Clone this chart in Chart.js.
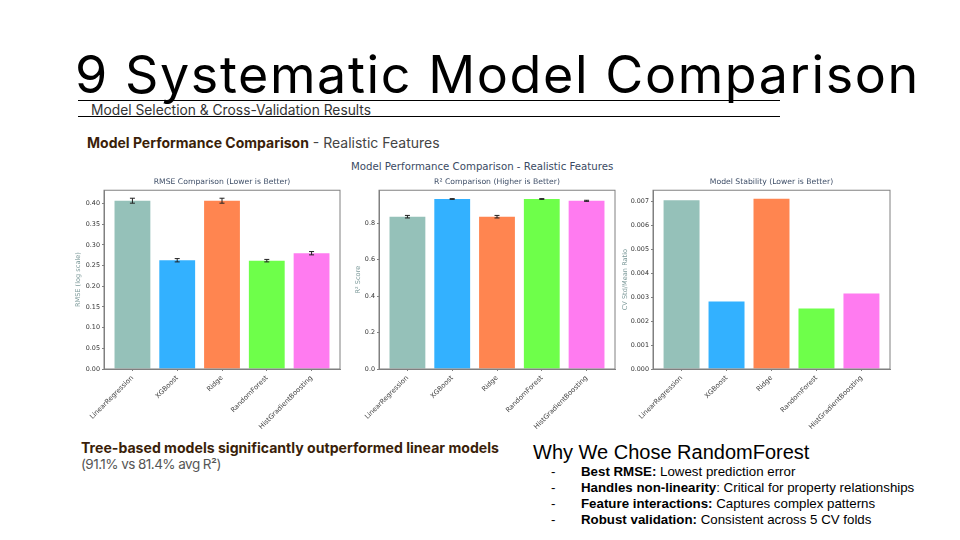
<!DOCTYPE html>
<html><head><meta charset="utf-8">
<script src="https://cdn.jsdelivr.net/npm/chart.js@4"></script>
<style>
html,body{margin:0;padding:0;background:#fff;}
body{position:relative;width:960px;height:540px;overflow:hidden;}
.t{position:absolute;white-space:nowrap;line-height:1;}
.rule{position:absolute;left:78px;width:702px;height:1px;background:#000;}
canvas{position:absolute;filter:blur(0.45px);}
b{font-weight:700;}
</style></head><body>
<div class="t" id="title" style="left:75px;top:43px;font:400 52px Inter;color:#000;letter-spacing:1.6px;">9 Systematic Model Comparison</div>
<div class="rule" style="top:100px"></div>
<div class="rule" style="top:116px"></div>
<div class="t" style="left:91px;top:102px;font:400 13.8px Inter;color:#333;">Model Selection &amp; Cross-Validation Results</div>
<div class="t" style="left:87px;top:134px;font:400 14px Inter;color:#444;"><b style="color:#3b1f0a;">Model Performance Comparison</b> - Realistic Features</div>
<div class="t" style="left:351px;top:161px;font:400 10.2px 'DejaVu Sans';color:#3a4a63;">Model Performance Comparison - Realistic Features</div>
<canvas id="c1" width="271" height="260" style="left:74px;top:175px"></canvas>
<canvas id="c2" width="266" height="260" style="left:354px;top:175px"></canvas>
<canvas id="c3" width="274" height="260" style="left:621px;top:175px"></canvas>
<div class="t" style="left:81px;top:439px;font:400 14.1px Inter;color:#3b1f0a;"><b>Tree-based models significantly outperformed linear models</b></div>
<div class="t" style="left:81px;top:456px;font:400 13.5px Inter;color:#555;letter-spacing:-0.55px;">(91.1% vs 81.4% avg R²)</div>
<div class="t" style="left:533px;top:441px;font:400 20px 'Liberation Sans';color:#000;">Why We Chose RandomForest</div>
<div class="t" style="left:551px;top:464px;font:400 13.3px 'Liberation Sans';">-</div>
<div class="t" style="left:581px;top:464px;font:400 13.3px 'Liberation Sans';"><b>Best RMSE:</b> Lowest prediction error</div>
<div class="t" style="left:551px;top:480px;font:400 13.3px 'Liberation Sans';">-</div>
<div class="t" style="left:581px;top:480px;font:400 13.3px 'Liberation Sans';"><b>Handles non-linearity</b>: Critical for property relationships</div>
<div class="t" style="left:551px;top:496px;font:400 13.3px 'Liberation Sans';">-</div>
<div class="t" style="left:581px;top:496px;font:400 13.3px 'Liberation Sans';"><b>Feature interactions:</b> Captures complex patterns</div>
<div class="t" style="left:551px;top:512px;font:400 13.3px 'Liberation Sans';">-</div>
<div class="t" style="left:581px;top:512px;font:400 13.3px 'Liberation Sans';"><b>Robust validation:</b> Consistent across 5 CV folds</div>
<script>
const categories = ["LinearRegression","XGBoost","Ridge","RandomForest","HistGradientBoosting"];
const barColors = ["#95c1b9","#33b1ff","#ff8550","#6eff4a","#ff7bf0"];
const rmseValues = [0.407,0.263,0.407,0.262,0.280];
const rmseErrors = [0.006,0.004,0.006,0.003,0.004];
const r2Values = [0.835,0.932,0.835,0.932,0.922];
const r2Errors = [0.007,0.002,0.007,0.002,0.003];
const stabilityValues = [0.00703,0.00281,0.0071,0.00252,0.00315];

const frame = {id:'frame',afterDatasetsDraw(ch){
  const a=ch.chartArea,c=ch.ctx;
  c.save();c.strokeStyle='#808080';c.lineWidth=1;
  c.strokeRect(a.left,a.top,a.right-a.left,a.bottom-a.top);c.restore();
}};
const errorBars = {id:'errorBars',afterDatasetsDraw(ch,args,opts){
  if(!opts.errors) return;
  const c=ch.ctx,x=ch.scales.x,y=ch.scales.y,vals=ch.data.datasets[0].data;
  c.save();c.strokeStyle='#222';c.lineWidth=1;
  vals.forEach((p,i)=>{
    const px=x.getPixelForValue(p.x);
    const t=y.getPixelForValue(p.y+opts.errors[i]),b=y.getPixelForValue(p.y-opts.errors[i]);
    c.beginPath();c.moveTo(px,t);c.lineTo(px,b);
    c.moveTo(px-2.5,t);c.lineTo(px+2.5,t);
    c.moveTo(px-2.5,b);c.lineTo(px+2.5,b);c.stroke();
  });c.restore();
}};
function makeChart(id,title,yTitle,values,errors,yMax,step,digits,axisW){
  return new Chart(document.getElementById(id),{
    type:'bar',
    data:{datasets:[{data:values.map((v,i)=>({x:i,y:v})),backgroundColor:barColors,
      borderWidth:0,barPercentage:0.8,categoryPercentage:1}]},
    plugins:[frame,errorBars],
    options:{responsive:false,animation:false,devicePixelRatio:1,
      layout:{padding:{left:0,right:5,top:0,bottom:0}},
      plugins:{legend:{display:false},tooltip:{enabled:false},
        errorBars:{errors:errors},
        title:{display:true,text:title,fullSize:false,color:'#3f4f68',font:{family:'DejaVu Sans',size:7.7,weight:'400'},padding:{top:2,bottom:4}}},
      scales:{
        x:{type:'linear',offset:false,min:-0.635,max:4.635,
          afterFit(s){s.height=66;},
          grid:{offset:false,drawOnChartArea:false,drawTicks:true,tickLength:2,tickColor:'#808080'},
          border:{color:'#808080'},
          ticks:{stepSize:1,includeBounds:false,autoSkip:false,minRotation:45,maxRotation:45,padding:3,
            color:'#444',font:{family:'DejaVu Sans',size:6.8},callback:v=>categories[v]}},
        y:{min:0,max:yMax,
          afterFit(s){s.width=axisW;},
          grid:{drawOnChartArea:false,drawTicks:true,tickLength:2,tickColor:'#808080'},
          border:{color:'#808080'},
          title:{display:true,text:yTitle,color:'#7d9a9a',font:{family:'DejaVu Sans',size:6.6},padding:0},
          ticks:{stepSize:step,includeBounds:false,padding:2,color:'#333',font:{family:'DejaVu Sans',size:6.4},
            callback:v=>v.toFixed(digits)}}
      }}
  });
}
makeChart('c1','RMSE Comparison (Lower is Better)','RMSE (log scale)',rmseValues,rmseErrors,0.4323,0.05,2,30);
makeChart('c2','R² Comparison (Higher is Better)','R² Score',r2Values,r2Errors,0.98,0.2,1,25);
makeChart('c3','Model Stability (Lower is Better)','CV Std/Mean Ratio',stabilityValues,null,0.00745,0.001,3,32);
</script>
</body></html>
